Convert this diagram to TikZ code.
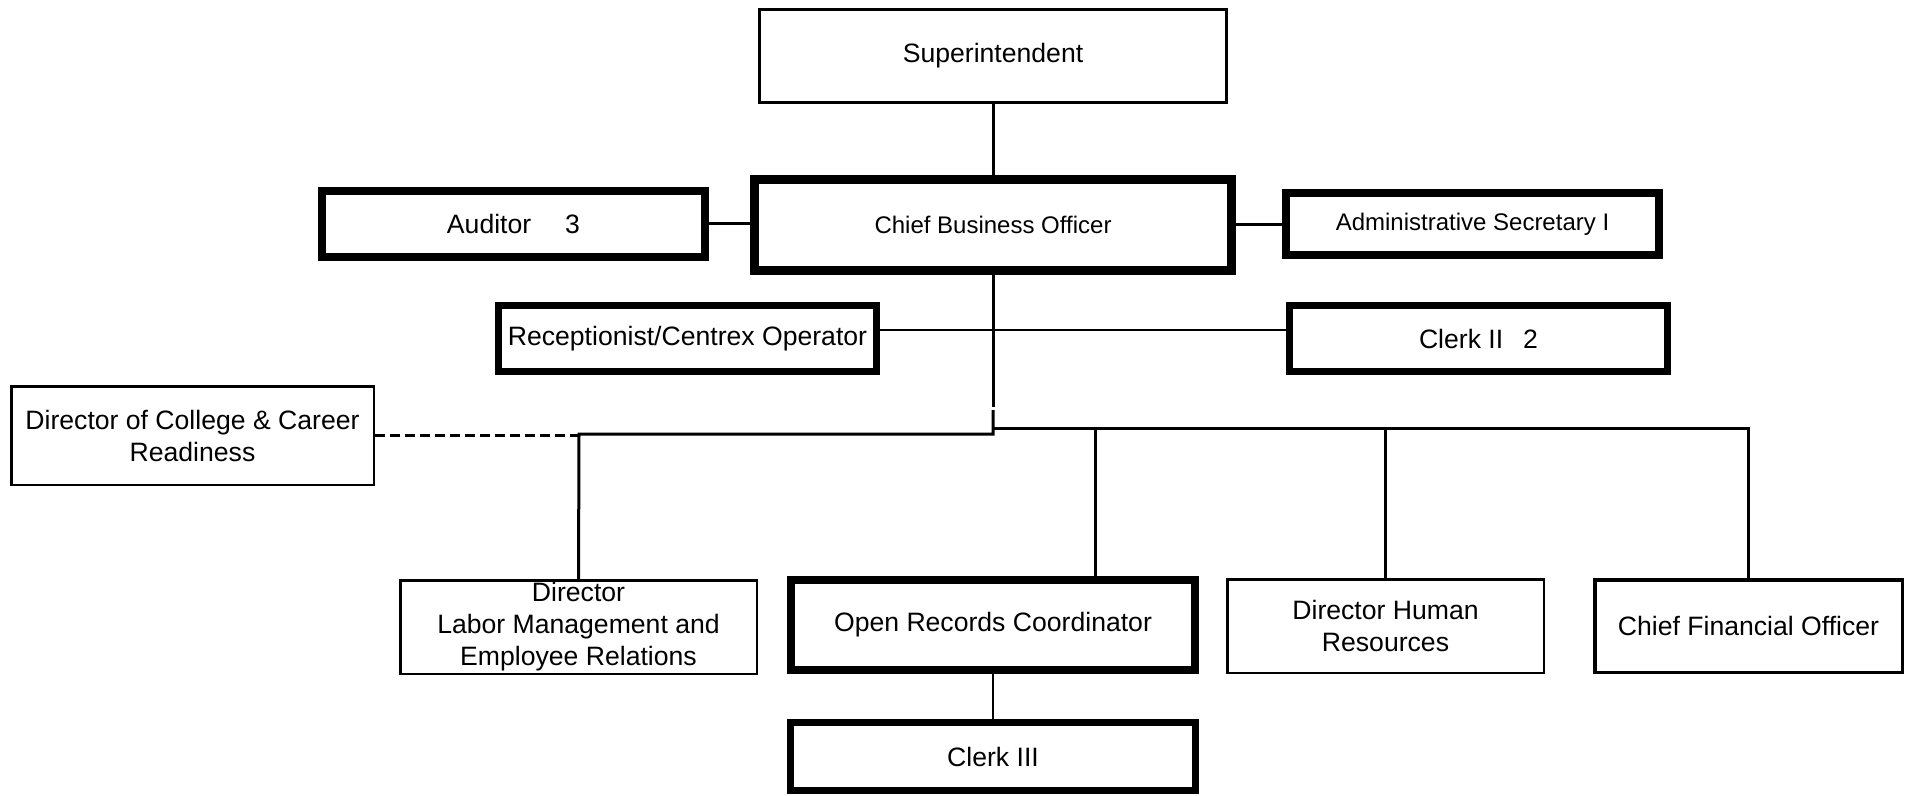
\documentclass[tikz,border=0pt]{standalone}
\usepackage{fontspec}
\setmainfont{Liberation Sans}
\begin{document}
\begin{tikzpicture}[x=0.5pt,y=-0.5pt,
  box/.style={draw, rectangle, inner sep=0pt, align=center, anchor=center,
    font=\fontsize{13.3}{16}\selectfont},
  smallfont/.style={font=\fontsize{12}{14.5}\selectfont},
  conn/.style={line width=1.5pt},
  thinconn/.style={line width=0.6pt},
  dashconn/.style={line width=1.5pt, dash pattern=on 5pt off 2.5pt}]
\useasboundingbox (0,0) rectangle (1915,796);

\node[box, line width=1.5pt, minimum width=233.5pt, minimum height=46.5pt] (sup) at (993,56) {Superintendent};
\node[box, smallfont, line width=4.5pt, minimum width=238.5pt, minimum height=45.5pt] (cbo) at (993,225) {Chief Business Officer};
\node[box, line width=4pt, minimum width=191.5pt, minimum height=33pt] (aud) at (513.5,224) {Auditor\hspace{17pt}3};
\node[box, smallfont, line width=4pt, minimum width=186.5pt, minimum height=31pt] (adm) at (1472.5,224) {Administrative Secretary I};
\node[box, line width=3.5pt, minimum width=189pt, minimum height=33pt] (rec) at (687.5,338.5) {Receptionist/Centrex Operator};
\node[box, line width=3.5pt, minimum width=189pt, minimum height=33pt] (clk2) at (1478.5,338.5) {Clerk II\hspace{10pt}2};
\node[box, line width=1.25pt, minimum width=181.25pt, minimum height=49.25pt] (dcc) at (192.5,435.5) {Director of College \& Career\\Readiness};
\node[box, line width=1.25pt, minimum width=178.25pt, minimum height=46.75pt] (dlm) at (578.5,627) {Director\\Labor Management and\\Employee Relations};
\node[box, line width=4pt, minimum width=202pt, minimum height=45pt] (orc) at (993,625) {Open Records Coordinator};
\node[box, line width=1.25pt, minimum width=158.25pt, minimum height=46.75pt] (dhr) at (1385.5,626) {Director Human\\Resources};
\node[box, line width=1.75pt, minimum width=153.75pt, minimum height=46.25pt] (cfo) at (1748.5,626) {Chief Financial Officer};
\node[box, line width=3.5pt, minimum width=202.5pt, minimum height=34pt] (clk3) at (993,756.5) {Clerk III};

\coordinate (recline) at (993,330);
\coordinate (brk1) at (993,407);
\coordinate (brk2) at (993,410);
\coordinate (jl) at (993,434);
\coordinate (jr) at (993,428);
\coordinate (cl) at (579,434);
\coordinate (dashend) at (579,435);

\draw[conn] (sup.south) -- (cbo.north);
\draw[conn] (aud.east) -- (aud.east -| cbo.west);
\draw[conn] (cbo.east) -- (cbo.east -| adm.west);
\draw[thinconn] (rec.east |- recline) -- (clk2.west |- recline);
\draw[conn] (cbo.south) -- (brk1);
\draw[conn] (brk2) -- (jl) -- (cl) -- (dlm.north);
\draw[conn] (jr) -- (jr -| cfo.north) -- (cfo.north);
\draw[conn] (jr -| 1095,0) -- (orc.north -| 1095,0);
\draw[conn] (jr -| dhr.north) -- (dhr.north);
\draw[dashconn] (dcc.east |- dashend) -- (dashend);
\draw[thinconn] (orc.south) -- (clk3.north);
\end{tikzpicture}
\end{document}
